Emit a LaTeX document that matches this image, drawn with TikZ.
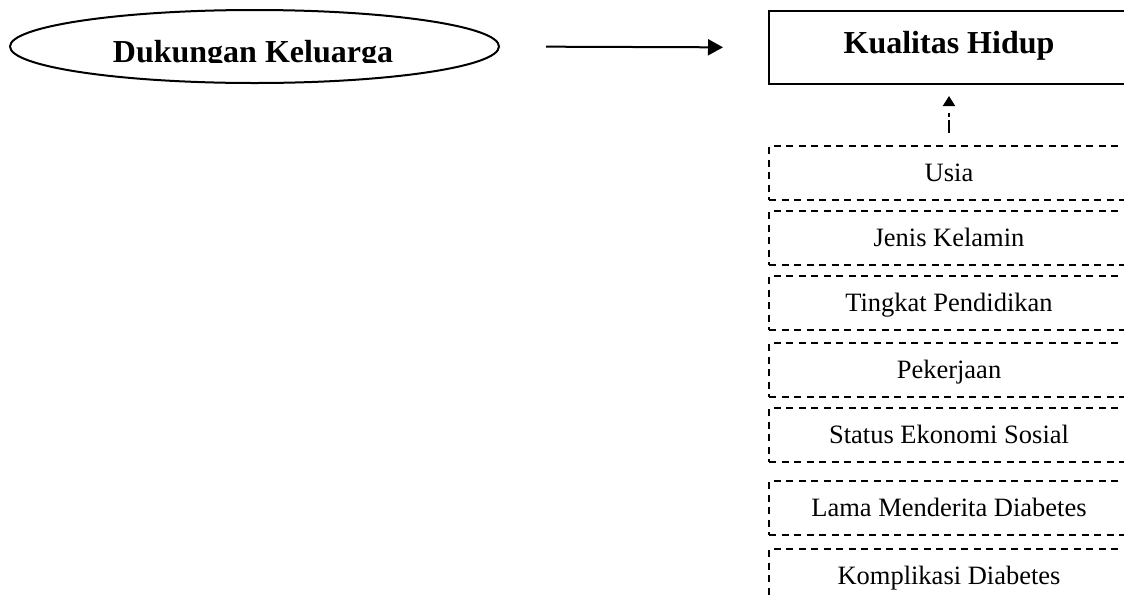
\documentclass[tikz,border=0pt]{standalone}
\usepackage{fontspec}
\setmainfont{Liberation Serif}
\usetikzlibrary{shapes.geometric,arrows.meta}

\tikzset{
  mainbold/.style={font=\fontsize{32}{38}\selectfont\bfseries},
  factorbox/.style={draw, dash pattern=on 7pt off 5.5pt, anchor=north west,
    minimum width=360pt, inner sep=0pt, text height=35pt, text depth=19pt,
    font=\fontsize{26.5}{32}\selectfont}
}

\begin{document}
\begin{tikzpicture}[x=1pt, y=-1pt, line width=2pt]

\useasboundingbox (0,0) rectangle (1124,598);
\clip (0,0) rectangle (1124,598);

\def\boxleft{768}
\def\boxwidth{360pt}

\node [draw, ellipse, minimum width=489pt, minimum height=73pt, inner sep=0pt] (dukungan) at (254.5,46.5) {};
\begin{scope}
\clip (0,0) rectangle (1124,62);
\node [mainbold, anchor=base] (dukunganlabel) at (253,62) {Dukungan Keluarga};
\end{scope}

\node [draw, mainbold, anchor=north west, minimum width=\boxwidth, inner sep=0pt, text height=42pt, text depth=31pt] (kualitas) at (\boxleft,10) {Kualitas Hidup};

\draw [-{Triangle[length=15pt,width=16pt]}, shorten <=46pt, shorten >=45pt] (dukungan.east) -- (kualitas.west);

\foreach \i/\ytop/\txt in {1/145/Usia, 2/210/Jenis Kelamin, 3/275/Tingkat Pendidikan, 4/342/Pekerjaan, 5/407/Status Ekonomi Sosial, 6/480/Lama Menderita Diabetes, 7/548/Komplikasi Diabetes}
  \node [factorbox] (f\i) at (\boxleft,\ytop) {\txt};

\draw [-{Triangle[length=10pt,width=12pt]}, dash pattern=on 13pt off 3pt on 4pt off 22pt, dash phase=30pt, shorten >=11pt] (f1.north) -- (kualitas.south);

\end{tikzpicture}
\end{document}
